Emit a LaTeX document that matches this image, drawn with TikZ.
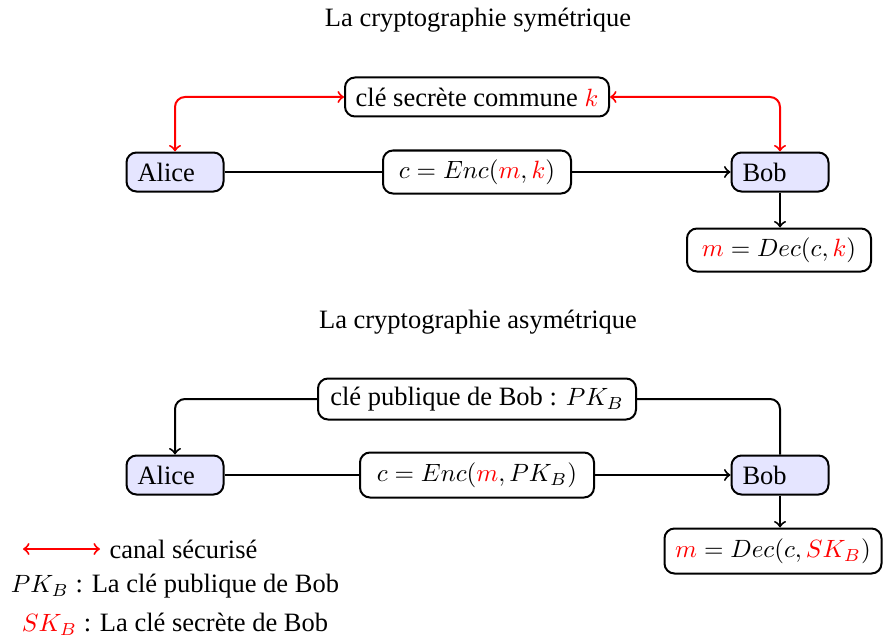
\documentclass[tikz,border=0pt]{standalone}
\usepackage{fontspec}
\setmainfont{Liberation Serif}
\newcommand\mth[1]{{\fontsize{10.2}{12}\selectfont$#1$}}
\begin{document}
\begin{tikzpicture}[x=0.4pt,y=-0.4pt,
  font=\fontsize{10.6}{12.7}\selectfont,
  every node/.style={inner sep=0pt},
  person/.style={draw,thick,rounded corners=4pt,fill=blue!10,text width=30pt,inner xsep=4.4pt,align=left,minimum height=15.6pt},
  info/.style={draw,thick,rounded corners=4pt,align=center},
  link/.style={thick},
  sec/.style={thick,red,rounded corners=4pt}]
\useasboundingbox (0,0) rectangle (885,639);
% symmetric
\node (t1) at (478,20) {La cryptographie symétrique};
\node[info,minimum width=105.6pt,minimum height=15.6pt] (key) at (477,97) {clé secrète commune \mth{\textcolor{red}{k}}};
\node[person] (alice1) at (175,172) {Alice};
\node[info,minimum width=75.2pt,minimum height=17.2pt] (enc1) at (477,172) {\mth{c = Enc(\textcolor{red}{m},\textcolor{red}{k})}};
\node[person] (bob1) at (780,172) {Bob};
\node[info,minimum width=73.6pt,minimum height=17.2pt] (dec1) at (779,250) {\mth{\textcolor{red}{m} = Dec(c,\textcolor{red}{k})}};
\draw[sec,<->] (alice1.north) |- (key.west);
\draw[sec,<->] (key.east) -| (bob1.north);
\draw[link] (alice1.east) -- (enc1.west);
\draw[link,->] (enc1.east) -- (bob1.west);
\draw[link,->] (bob1.south) -- (bob1.south |- dec1.north);
% asymmetric
\node (t2) at (478,322) {La cryptographie asymétrique};
\node[info,minimum width=127.2pt,minimum height=16.4pt] (pk) at (477,399) {clé publique de Bob : \mth{PK_B}};
\node[person] (alice2) at (175,475) {Alice};
\node[info,minimum width=93.6pt,minimum height=18pt] (enc2) at (477,475) {\mth{c = Enc(\textcolor{red}{m},PK_B)}};
\node[person] (bob2) at (780,475) {Bob};
\node[info,minimum width=86.8pt,minimum height=18pt] (dec2) at (773,551) {\mth{\textcolor{red}{m} = Dec(c,\textcolor{red}{SK_B})}};
\draw[link,->,rounded corners=4pt] (pk.west) -| (alice2.north);
\draw[link,rounded corners=4pt] (pk.east) -| (bob2.north);
\draw[link] (alice2.east) -- (enc2.west);
\draw[link,->] (enc2.east) -- (bob2.west);
\draw[link,->] (bob2.south) -- (bob2.south |- dec2.north);
% legend
\coordinate (la) at (23,549);
\coordinate (lb) at (100,549);
\draw[thick,red,<->] (la) -- (lb);
\node[anchor=west] (lt) at (109,549) {canal sécurisé};
\node (pkl) at (175,586) {\mth{PK_B} : La clé publique de Bob};
\node (skl) at (175,624) {\mth{\textcolor{red}{SK_B}} : La clé secrète de Bob};
\end{tikzpicture}
\end{document}
